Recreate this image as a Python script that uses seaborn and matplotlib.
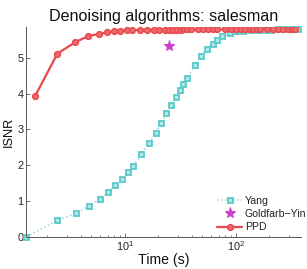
import matplotlib
matplotlib.use('Agg')
import matplotlib.pyplot as plt
import seaborn as sns
import pandas as pd
import numpy as np

# ---- data ----
yang_time = [1.30, 2.48, 3.65, 4.78, 5.96, 7.08, 8.23, 9.51, 10.6, 11.8, 14.1, 16.5, 18.9,
             21.3, 23.7, 26.2, 28.7, 31.2, 33.6, 36.3, 42.9, 48.8, 55.2, 61.8, 68.0, 74.9,
             88.3, 101, 116, 134, 155, 179, 206, 238, 275, 318, 364]
yang_isnr = [0.0, 0.46, 0.66, 0.86, 1.05, 1.25, 1.44, 1.62, 1.80, 1.97, 2.30, 2.61, 2.90,
             3.18, 3.45, 3.68, 3.90, 4.09, 4.27, 4.44, 4.80, 5.06, 5.25, 5.40, 5.51, 5.60,
             5.68, 5.74, 5.76, 5.77, 5.78, 5.79, 5.79, 5.80, 5.80, 5.80, 5.80]

gy_time = [25.2]
gy_isnr = [5.32]

ppd_time = [1.56, 2.48, 3.60, 4.71, 5.87, 6.98, 8.07, 9.15, 10.4, 11.6, 13.7, 16.0, 18.2,
            20.5, 22.9, 25.2, 27.3, 29.7, 32.1, 34.1, 36.3, 39.4, 45.3, 50.8, 56.4, 62.1,
            67.9, 79.1, 89.5, 100.6, 110.9, 121.3, 132.9, 143.0, 153.4, 164.3, 190.0,
            213.8, 240.1, 266.3, 291.6, 316.6, 339.0]
ppd_isnr = [3.93, 5.12, 5.44, 5.61, 5.67, 5.71, 5.74, 5.76, 5.77, 5.77, 5.78, 5.78, 5.79,
            5.79, 5.79, 5.79, 5.79, 5.79, 5.79, 5.80, 5.80, 5.80, 5.80, 5.80, 5.80, 5.80,
            5.80, 5.80, 5.80, 5.80, 5.80, 5.80, 5.80, 5.80, 5.80, 5.80, 5.80,
            5.80, 5.80, 5.80, 5.80, 5.80, 5.80]

x_ticks = [10, 100]
y_ticks = [0, 1, 2, 3, 4, 5]

sns.set_style('ticks')
plt.rcParams['font.family'] = ['Liberation Sans', 'DejaVu Sans']

W, H = 307, 269
fig = plt.figure(figsize=(W / 100, H / 100), dpi=100)
ax = fig.add_axes([26.3 / W, (H - 236.7) / H, (301 - 26.3) / W, (236.7 - 26.7) / H])

cyan = '#5cc9c9'
red = '#e8484b'
mag = '#cc3fcc'

yang_df = pd.DataFrame({'t': yang_time, 'v': yang_isnr})
gy_df = pd.DataFrame({'t': gy_time, 'v': gy_isnr})
ppd_df = pd.DataFrame({'t': ppd_time, 'v': ppd_isnr})

sns.lineplot(data=yang_df, x='t', y='v', ax=ax, estimator=None, sort=False,
             color='#8fdada', linestyle=':', linewidth=1.1, marker='s', markersize=3.6,
             markerfacecolor='#b5e6e6', markeredgecolor=cyan, markeredgewidth=1.3,
             label='Yang', clip_on=False, zorder=2)
sns.lineplot(data=gy_df, x='t', y='v', ax=ax, estimator=None, sort=False,
             color=mag, linestyle='none', marker='*', markersize=8,
             markeredgecolor=mag, label='Goldfarb\u2212Yin', zorder=3)
sns.lineplot(data=ppd_df, x='t', y='v', ax=ax, estimator=None, sort=False,
             color=red, linestyle='-', linewidth=1.6, marker='o', markersize=4.2,
             markerfacecolor='#ec6a6c', markeredgecolor=red, markeredgewidth=1.0,
             label='PPD', zorder=4)

ax.set_xscale('log')
ax.set_xlim(1.30, 385)
ax.set_ylim(0, 5.87)
ax.set_yticks(y_ticks)
ax.set_yticklabels([str(v) for v in y_ticks])

sns.despine(ax=ax)
for s in ['left', 'bottom']:
    ax.spines[s].set_color('#555555')
    ax.spines[s].set_linewidth(0.7)
ax.tick_params(which='major', direction='in', length=3, width=0.6, labelsize=7.8,
               pad=2, colors='#555555', labelcolor='#222222')
ax.tick_params(which='minor', direction='in', length=1.8, width=0.5, colors='#555555')

ax.set_title('Denoising algorithms: salesman', fontsize=11.6, pad=4, color='#111111')
ax.set_xlabel('Time (s)', fontsize=10.2, labelpad=0, color='#111111')
ax.set_ylabel('ISNR', fontsize=9.2, labelpad=2, color='#111111')

leg = ax.legend(loc='upper left', bbox_to_anchor=(217 / W, 1 - 196 / H),
                bbox_transform=fig.transFigure, frameon=False, fontsize=7.6,
                handlelength=2.4, handletextpad=0.25, labelspacing=0.3,
                borderpad=0, borderaxespad=0)
for t in leg.get_texts():
    t.set_color('#222222')

fig.savefig('out.png', dpi=100)
